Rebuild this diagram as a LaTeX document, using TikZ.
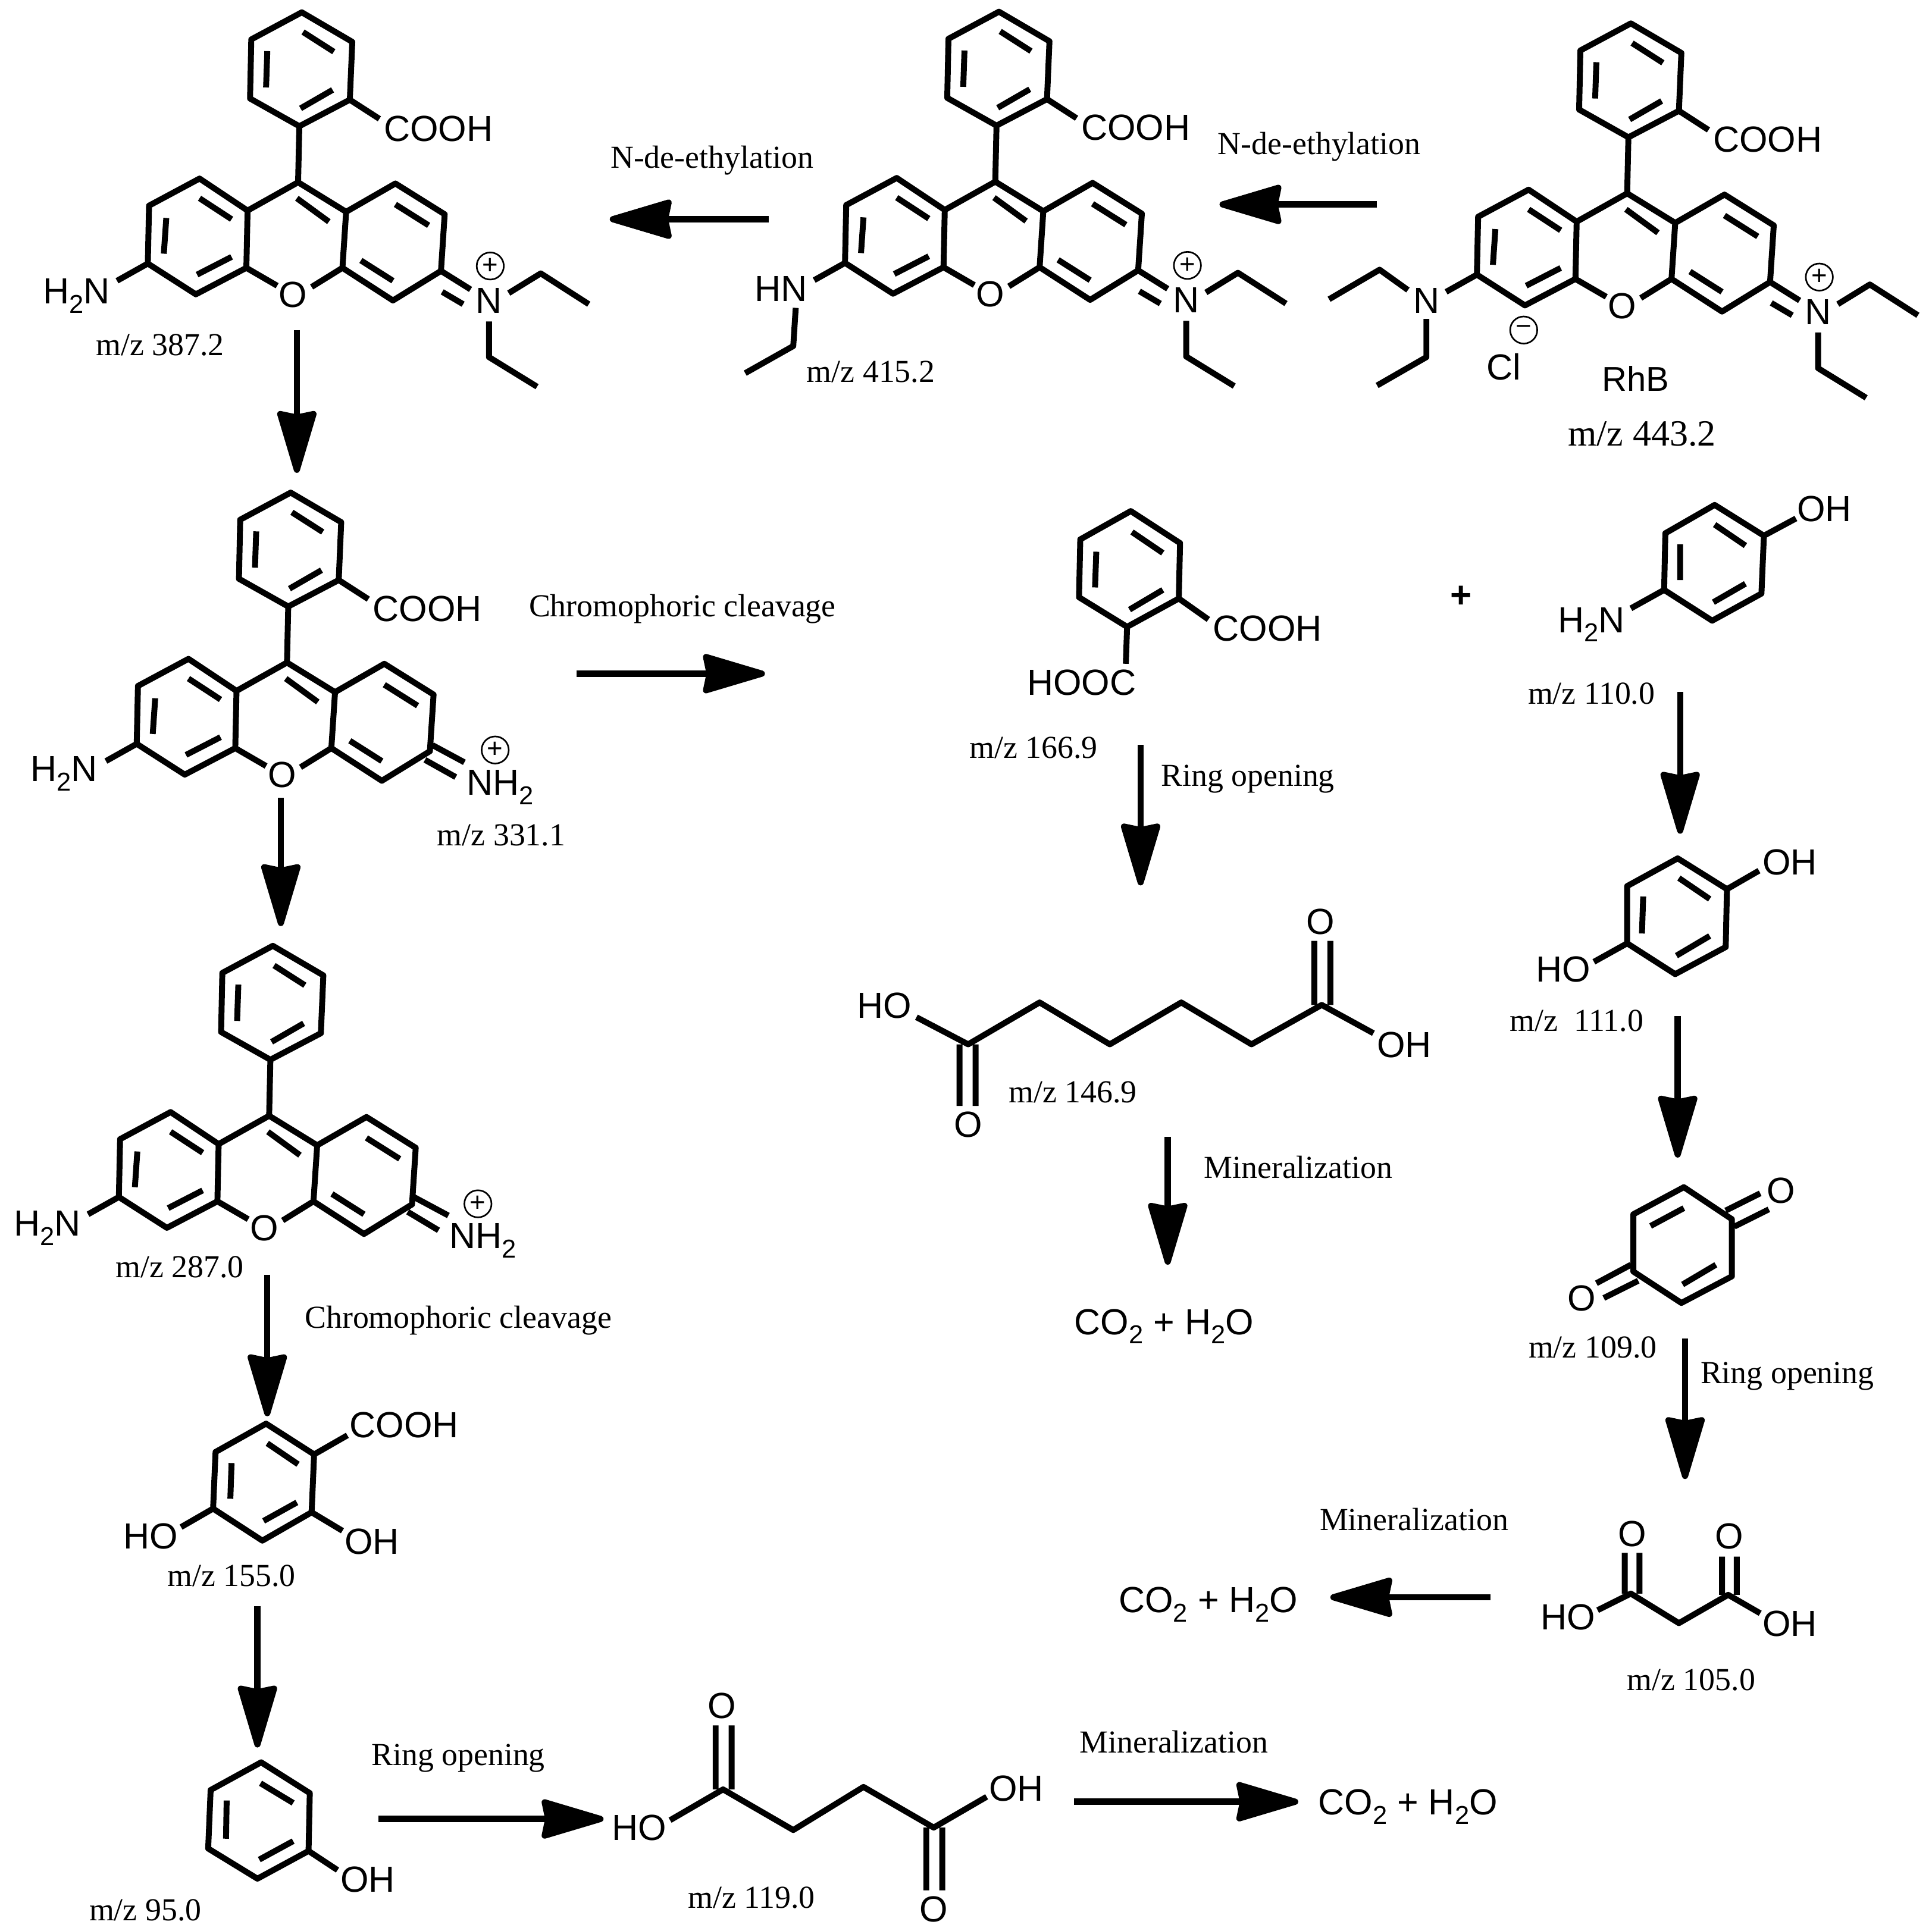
\documentclass[tikz,border=0pt]{standalone}
\usepackage{fontspec}
\setmainfont{Liberation Serif}
\setsansfont{Liberation Sans}
\usetikzlibrary{arrows.meta}
\newcommand\subdig[1]{\raisebox{-0.26em}{\fontsize{21}{21}\selectfont #1}}
\tikzset{
  bond/.style={line width=4.8pt,line cap=butt,line join=round,black},
  rxn/.style={line width=5pt,black,-{Stealth[length=57pt,width=33pt,inset=3pt,round]}},
  atom/.style={inner sep=0pt,font=\fontsize{29.5}{30}\selectfont\sffamily,text height=21pt,text depth=0pt},
  lab/.style={inner sep=0pt,font=\fontsize{26}{28}\selectfont\rmfamily,text height=17pt,text depth=0pt},
  mz/.style={inner sep=0pt,font=\fontsize{26}{28}\selectfont\rmfamily,text height=17pt,text depth=0pt},
  charge/.style={circle,draw,line width=1.3pt,minimum size=22pt,inner sep=0pt,font=\fontsize{22}{22}\selectfont\sffamily},
}
% xanthene core with pendant phenyl ring; #1 prefix, #2 x, #3 y
\newcommand\xcore[3]{%
\begin{scope}[shift={(#2,#3)}]
\draw[bond] (3,-138) -- (-38,-116) -- (-39,-68) -- (1,-45.5) -- (42,-67) -- (44,-114) -- cycle
  (1,-45.5) -- (0,0)
  (4,-122) -- (29,-106) (-25,-106.5) -- (-26,-77) (2,-60) -- (28,-75)
  (-80,-3) -- (-121,19) -- (-122,66) -- (-83,91) -- (-42,69.5) -- (-41,23) -- cycle
  (-41,23) -- (0,0) -- (39,24)
  (39,24) -- (79,1) -- (119,26) -- (116,72) -- (77,96) -- (36,69.5) -- cycle
  (-80,13) -- (-54,30) (-107,29) -- (-109,58) (-82,75) -- (-54,60.6)
  (-1,13) -- (25,32)
  (79,18) -- (106,35) (51,63.5) -- (77,80)
  (-42,69.5) -- (-17,84) (36,69.5) -- (11,85)
  (-122,66) -- (-147,80);
\node[atom] (#1O) at (-4,91) {O};
\end{scope}}
\newcommand\cooh[3]{%
\begin{scope}[shift={(#2,#3)}]
\draw[bond] (42,-67) -- (66,-51.5);
\node[atom] (#1acid) at (114,-44) {COOH};
\end{scope}}
% ring-N diethyl iminium
\newcommand\iminium[3]{%
\begin{scope}[shift={(#2,#3)}]
\draw[bond] (116,72) -- (140,87) (117,89) -- (134,99)
  (171,90) -- (197,74) -- (236,99)
  (155,113) -- (155,142) -- (194,166);
\node[atom] (#1N) at (155,96) {N};
\node[charge] (#1plus) at (156,68) {+};
\end{scope}}
\begin{document}
\begin{tikzpicture}[x=1pt,y=-1pt]
\useasboundingbox (0,0) rectangle (1568,1568);
\fill[white] (0,0) rectangle (1568,1568);
% RhB
\xcore{a}{1321}{157}\cooh{a}{1321}{157}\iminium{a}{1321}{157}
\node[atom] (aNl) at (1158,244) {N};
\draw[bond] (1143,235.5) -- (1120,219) -- (1079,243)
  (1158,259) -- (1158,290) -- (1118,313);
\node[atom] (aCl) at (1221,298) {Cl};
\node[charge] (aminus) at (1237,268) {−};
\node[atom,font=\fontsize{28}{30}\selectfont\sffamily] (aname) at (1328,307) {RhB};
\node[mz,font=\fontsize{30}{30}\selectfont\rmfamily,text height=20pt] (amz) at (1333,352) {m/z 443.2};
% m/z 415.2
\xcore{b}{808}{147.5}\cooh{b}{808}{147.5}\iminium{b}{808}{147.5}
\node[atom] (bHN) at (634,234) {HN};
\draw[bond] (646,250) -- (644,281) -- (605,303);
\node[mz] (bmz) at (707,302) {m/z 415.2};
% m/z 387.2
\xcore{c}{242}{148}\cooh{c}{242}{148}\iminium{c}{242}{148}
\node[atom] (cN) at (62,236) {H\subdig{2}N};
\node[mz] (cmz) at (130,280) {m/z 387.2};
% m/z 331.1
\xcore{d}{233}{538}\cooh{d}{233}{538}
\draw[bond] (351,605) -- (377,619) (345,617) -- (370,631);
\node[atom] (dNl) at (52,624) {H\subdig{2}N};
\node[atom] (dNr) at (406,635) {NH\subdig{2}};
\node[charge] (dplus) at (402,609) {+};
\node[mz] (dmz) at (407,678) {m/z 331.1};
% m/z 287.0
\xcore{e}{218.5}{906}
\draw[bond] (336,972) -- (364,987) (331,984) -- (356,999);
\node[atom] (eNl) at (38.5,993) {H\subdig{2}N};
\node[atom] (eNr) at (392,1003) {NH\subdig{2}};
\node[charge] (eplus) at (388,977.5) {+};
\node[mz] (emz) at (146,1029) {m/z 287.0};
% m/z 155.0
\draw[bond] (216,1156) -- (175,1179) -- (173,1225) -- (213,1251) -- (253,1228) -- (255,1181) -- cycle
 (217,1172) -- (242,1189) (188,1188) -- (187,1217) (214,1235) -- (241,1220)
 (255,1181) -- (282,1165.5) (173,1225) -- (147,1240) (253,1228) -- (278,1243);
\node[atom] (facid) at (328,1157) {COOH};
\node[atom] (fHO) at (122.5,1247) {HO};
\node[atom] (fOH) at (302,1251.5) {OH};
\node[mz] (fmz) at (188,1279.5) {m/z 155.0};
% m/z 95.0
\draw[bond] (212,1431) -- (171,1453.5) -- (169,1501) -- (209,1525.5) -- (250.5,1503) -- (251.5,1456) -- cycle
 (211.5,1448) -- (238,1464) (184,1462) -- (183.5,1493) (210.5,1510) -- (238,1495)
 (250.5,1503) -- (274,1518.5);
\node[atom] (gOH) at (298.5,1526) {OH};
\node[mz] (gmz) at (118,1551) {m/z 95.0};
% m/z 119.0
\draw[bond] (544,1478) -- (587,1453) -- (644,1486) -- (701,1451) -- (758,1484) -- (801,1459)
 (581,1401) -- (581,1453) (594,1401) -- (594,1453)
 (752,1484) -- (752,1535) (765,1484) -- (765,1535);
\node[atom] (hHO) at (519,1484) {HO};
\node[atom] (hOH) at (825,1452) {OH};
\node[atom] (hO1) at (586,1385) {O};
\node[atom] (hO2) at (758,1550) {O};
\node[mz] (hmz) at (610,1541) {m/z 119.0};
% phthalic acid
\draw[bond] (918,415) -- (877,438) -- (876,485) -- (915,509) -- (957,486) -- (958,441) -- cycle
 (919,432) -- (944,449) (890,448) -- (889,477) (917,495) -- (944,479)
 (957,486) -- (981,503) (915,509) -- (914,539);
\node[atom] (iacid) at (1029,510) {COOH};
\node[atom] (iacid2) at (878,554) {HOOC};
\node[mz] (imz) at (839,607) {m/z 166.9};
\node[atom,font=\fontsize{30}{30}\selectfont\bfseries\sffamily] (iplus) at (1186,483) {+};
% aminophenol
\draw[bond] (1392,410) -- (1352,433) -- (1351,479) -- (1390,504) -- (1430,482) -- (1432,435) -- cycle
 (1392,426) -- (1417,443) (1364,442) -- (1364,471) (1391,489) -- (1417,474)
 (1432,435) -- (1458,421) (1351,479) -- (1324,494);
\node[atom] (jOH) at (1481,413) {OH};
\node[atom] (jN) at (1292,503) {H\subdig{2}N};
\node[mz] (jmz) at (1292,563) {m/z 110.0};
% hydroquinone
\draw[bond] (1362,697) -- (1321,719.5) -- (1321,766) -- (1360,791) -- (1401,769) -- (1402,722) -- cycle
 (1363,713) -- (1388,730) (1334,728) -- (1333,758) (1361,776) -- (1388,760)
 (1402,722) -- (1428,707) (1321,766) -- (1294,781);
\node[atom] (kOH) at (1453,700) {OH};
\node[atom] (kHO) at (1269,787) {HO};
\node[mz] (kmz) at (1280,829) {m/z\ \ 111.0};
% benzoquinone
\draw[bond] (1367,964) -- (1326,986) -- (1326,1032.5) -- (1365,1058) -- (1406,1036.4) -- (1406,990) -- cycle
 (1340,995.5) -- (1367,981) (1366,1043) -- (1393,1027)
 (1401,983) -- (1429,969) (1408,996) -- (1436,982)
 (1324,1027) -- (1296,1042) (1330,1040) -- (1302,1054);
\node[atom] (lO1) at (1446,966.5) {O};
\node[atom] (lO2) at (1284,1054) {O};
\node[mz] (lmz) at (1293,1094) {m/z 109.0};
% malonic acid
\draw[bond] (1297,1307.5) -- (1324,1294) -- (1363,1318) -- (1403,1295) -- (1429,1310)
 (1319,1261) -- (1319,1294) (1331,1261) -- (1331,1294)
 (1398,1264) -- (1398,1295) (1410,1264) -- (1410,1295);
\node[atom] (mHO) at (1273,1313) {HO};
\node[atom] (mOH) at (1453,1318) {OH};
\node[atom] (mO1) at (1325,1245) {O};
\node[atom] (mO2) at (1404,1247) {O};
\node[mz] (mmz) at (1373,1364) {m/z 105.0};
% adipic acid
\draw[bond] (744,826) -- (786,848) -- (844,814) -- (901,848) -- (959,814) -- (1016,848) -- (1073,816) -- (1115,839)
 (1067,764) -- (1067,816) (1080,764) -- (1080,816)
 (779,848) -- (779,898) (792,848) -- (792,898);
\node[atom] (nHO) at (718,816) {HO};
\node[atom] (nOH) at (1140,848) {OH};
\node[atom] (nO1) at (1072,748) {O};
\node[atom] (nO2) at (786,913) {O};
\node[mz] (nmz) at (871,887) {m/z 146.9};
% products
\node[atom] (p1) at (945,1073) {CO\subdig{2} + H\subdig{2}O};
\node[atom] (p2) at (981,1299) {CO\subdig{2} + H\subdig{2}O};
\node[atom] (p3) at (1143,1463) {CO\subdig{2} + H\subdig{2}O};
% labels
\node[lab] (t1) at (1071,117) {N-de-ethylation};
\node[lab] (t2) at (578,128) {N-de-ethylation};
\node[lab] (t3) at (554,492) {Chromophoric cleavage};
\node[lab] (t4) at (372,1070) {Chromophoric cleavage};
\node[lab] (t5) at (1013,630) {Ring opening};
\node[lab] (t6) at (1451,1115) {Ring opening};
\node[lab] (t7) at (372,1425) {Ring opening};
\node[lab] (t8) at (1054,948) {Mineralization};
\node[lab] (t9) at (1148,1234) {Mineralization};
\node[lab] (t10) at (953,1415) {Mineralization};
% arrows
\coordinate (r1a) at (1118,166); \coordinate (r1b) at (990,166);
\coordinate (r2a) at (624,178); \coordinate (r2b) at (495,178);
\coordinate (r3a) at (241,268); \coordinate (r3b) at (241,384);
\coordinate (r4a) at (228,648); \coordinate (r4b) at (228,752);
\coordinate (r5a) at (217,1035); \coordinate (r5b) at (217,1150);
\coordinate (r6a) at (209,1304); \coordinate (r6b) at (209,1419);
\coordinate (r7a) at (307,1477); \coordinate (r7b) at (490,1477);
\coordinate (r8a) at (872,1463); \coordinate (r8b) at (1054,1463);
\coordinate (r9a) at (468,547); \coordinate (r9b) at (621,547);
\coordinate (r10a) at (926,605); \coordinate (r10b) at (926,719);
\coordinate (r11a) at (948,923); \coordinate (r11b) at (948,1027);
\coordinate (r12a) at (1364,562); \coordinate (r12b) at (1364,677);
\coordinate (r13a) at (1362,825); \coordinate (r13b) at (1362,940);
\coordinate (r14a) at (1368,1087); \coordinate (r14b) at (1368,1201);
\coordinate (r15a) at (1210,1297); \coordinate (r15b) at (1080,1297);
\foreach \n in {1,...,15} \draw[rxn] (r\n a) -- (r\n b);
\end{tikzpicture}
\end{document}
